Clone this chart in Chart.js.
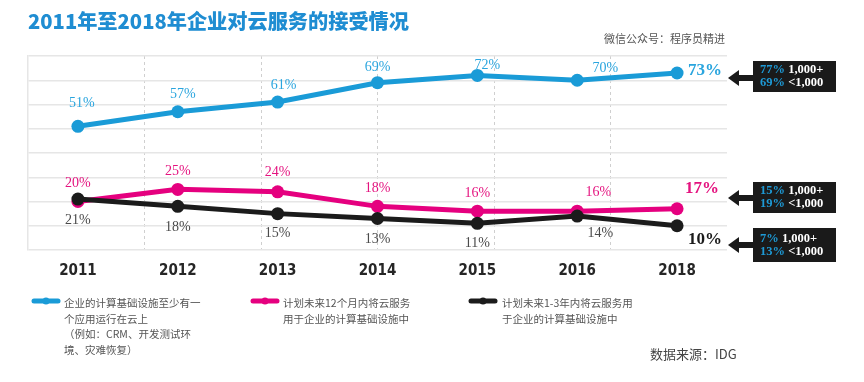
<!DOCTYPE html>
<html>
<head>
<meta charset="utf-8">
<script src="https://cdn.jsdelivr.net/npm/chart.js@4/dist/chart.umd.min.js"></script>
<style>
  html, body { margin: 0; padding: 0; background: #fff; }
  #wrap { position: relative; width: 864px; height: 382px; overflow: hidden; font-family: "Noto Sans CJK SC", "Noto Sans", sans-serif; }
  #c { position: absolute; left: 0; top: 0; }
  .t { position: absolute; white-space: nowrap; }
  #title { left: 28px; top: 6px; font-size: 20.2px; font-weight: 900; color: #1f8dd2; }
  #sub { right: 139px; top: 30px; font-size: 11px; color: #555; }
  .leg { position: absolute; font-size: 10.5px; line-height: 15.5px; color: #555; white-space: nowrap; }
  #src { left: 650px; top: 344px; font-size: 13px; color: #444; }
</style>
</head>
<body>
<div id="wrap">
  <canvas id="c" width="864" height="382"></canvas>
  <div id="title" class="t">2011年至2018年企业对云服务的接受情况</div>
  <div id="sub" class="t">微信公众号：程序员精进</div>
  <div class="leg" style="left:64px; top:295px;">企业的计算基础设施至少有一<br>个应用运行在云上<br>（例如：CRM、开发测试环<br>境、灾难恢复）</div>
  <div class="leg" style="left:283px; top:295px;">计划未来12个月内将云服务<br>用于企业的计算基础设施中</div>
  <div class="leg" style="left:502px; top:295px;">计划未来1-3年内将云服务用<br>于企业的计算基础设施中</div>
  <div id="src" class="t">数据来源：IDG</div>
</div>
<script>
// ---- data ----
const years = ['2011', '2012', '2013', '2014', '2015', '2016', '2018'];
const deployed = [51, 57, 61, 69, 72, 70, 73];
const plan12Months = [20, 25, 24, 18, 16, 16, 17];
const plan1to3Years = [21, 18, 15, 13, 11, 14, 10];
const seriesNames = ['企业的计算基础设施至少有一个应用运行在云上', '计划未来12个月内将云服务用于企业的计算基础设施中', '计划未来1-3年内将云服务用于企业的计算基础设施中'];
const splitLarge = ['77%', '15%', '7%'];   // 1,000+
const splitSmall = ['69%', '19%', '13%'];  // <1,000
const splitLabels = ['1,000+', '<1,000'];

const BLUE = '#1a9bd7', PINK = '#e5007f', BLACK = '#1b1b1b';
const LBLUE = '#2aa5de', LPINK = '#e4137f', LBLACK = '#4a4a4a';

// label offsets (style only)
const labelStyle = [
  { color: LBLUE, off: [[4,-23],[5,-17],[6,-17],[0,-15],[10,-10],[28,-12],[28,-2]] },
  { color: LPINK, off: [[0,-18],[0,-18],[0,-19],[0,-18],[0,-18],[21,-19],[25,-20]] },
  { color: LBLACK, off: [[0,21],[0,21],[0,20],[0,21],[0,20],[23,17],[28,14]] }
];

const labelPlugin = {
  id: 'labels',
  afterDatasetsDraw(chart) {
    const ctx = chart.ctx;
    const xs = chart.scales.x, ys = chart.scales.y;
    ctx.save();
    ctx.textAlign = 'center';
    ctx.textBaseline = 'middle';
    chart.data.datasets.forEach((ds, di) => {
      const st = labelStyle[di];
      ds.data.forEach((v, i) => {
        const last = i === ds.data.length - 1;
        const x = xs.getPixelForValue(i) + st.off[i][0];
        const y = ys.getPixelForValue(v) + st.off[i][1];
        ctx.font = last ? 'bold 17px "Liberation Serif", serif' : '14px "Liberation Serif", serif';
        ctx.fillStyle = (last && di === 2) ? '#1b1b1b' : st.color;
        ctx.fillText(v + '%', x, y);
      });
    });
    ctx.restore();
  }
};

const calloutPlugin = {
  id: 'callouts',
  afterDraw(chart) {
    const ctx = chart.ctx;
    const a = chart.chartArea;
    const boxes = [
      { top: a.top + 5, h: 31, ay: a.top + 22 },
      { top: a.top + 126, h: 31, ay: a.top + 142 },
      { top: a.top + 172, h: 34, ay: a.top + 189 }
    ];
    ctx.save();
    boxes.forEach((b, i) => {
      const bx = a.right + 26, bw = 83;
      ctx.fillStyle = '#1a1a1a';
      ctx.fillRect(bx, b.top, bw, b.h);
      ctx.fillRect(a.right + 11, b.ay - 3, bx - (a.right + 11) + 1, 6);
      ctx.beginPath();
      ctx.moveTo(a.right + 1, b.ay);
      ctx.lineTo(a.right + 12, b.ay - 8);
      ctx.lineTo(a.right + 12, b.ay + 8);
      ctx.closePath();
      ctx.fill();
      ctx.font = 'bold 12.5px "Liberation Serif", serif';
      ctx.textBaseline = 'middle';
      ctx.textAlign = 'left';
      const mid = b.top + b.h / 2;
      [[splitLarge[i], splitLabels[0], mid - 6.5], [splitSmall[i], splitLabels[1], mid + 6.5]].forEach(r => {
        ctx.fillStyle = '#1e9ad6';
        ctx.fillText(r[0], bx + 7, r[2]);
        const w = ctx.measureText(r[0] + ' ').width;
        ctx.fillStyle = '#ffffff';
        ctx.fillText(r[1], bx + 7 + w, r[2]);
      });
    });
    // legend markers
    const marks = [[32, BLUE], [251, PINK], [469, BLACK]];
    marks.forEach(m => {
      ctx.strokeStyle = m[1];
      ctx.lineWidth = 5;
      ctx.lineCap = 'round';
      ctx.beginPath();
      ctx.moveTo(m[0] + 2, 301);
      ctx.lineTo(m[0] + 26, 301);
      ctx.stroke();
      ctx.fillStyle = m[1];
      ctx.beginPath();
      ctx.arc(m[0] + 14, 301, 3.5, 0, Math.PI * 2);
      ctx.fill();
    });
    ctx.restore();
  }
};

new Chart(document.getElementById('c'), {
  type: 'line',
  data: {
    labels: years,
    datasets: [
      { label: seriesNames[0], data: deployed, borderColor: BLUE, backgroundColor: BLUE, order: 2 },
      { label: seriesNames[1], data: plan12Months, borderColor: PINK, backgroundColor: PINK, order: 1 },
      { label: seriesNames[2], data: plan1to3Years, borderColor: BLACK, backgroundColor: BLACK, order: 0 }
    ]
  },
  options: {
    responsive: false,
    animation: false,
    devicePixelRatio: 1,
    layout: { padding: { left: 28, right: 137, top: 56, bottom: 0 } },
    elements: {
      line: { borderWidth: 5, tension: 0 },
      point: { radius: 6.5, borderWidth: 0, hoverRadius: 6.5 }
    },
    plugins: { legend: { display: false }, tooltip: { enabled: false }, title: { display: false } },
    scales: {
      x: {
        type: 'category',
        offset: true,
        grid: { display: false, drawTicks: false },
        border: { display: false },
        ticks: { color: '#262626', padding: 12, font: { family: '"DejaVu Sans Condensed", "Liberation Sans Narrow", sans-serif', size: 15, weight: 'bold' } },
        afterFit: s => { s.height = 132; }
      },
      x2: {
        type: 'linear',
        position: 'bottom',
        min: 0, max: 6,
        ticks: { display: false, stepSize: 1 },
        grid: {
          drawTicks: false,
          lineWidth: 1,
          color: c => (c.index === 0 || c.index === 6) ? 'rgba(0,0,0,0)' : '#cfcfcf'
        },
        border: { display: false, dash: [3, 3] },
        afterFit: s => { s.height = 0; }
      },
      y: {
        min: 0, max: 80,
        ticks: { display: false, stepSize: 10 },
        grid: { color: '#e6e6e6', lineWidth: 1.5, drawTicks: false },
        border: { display: true, color: '#e6e6e6', width: 1.5 },
        afterFit: s => { s.width = 0; }
      }
    }
  },
  plugins: [labelPlugin, calloutPlugin]
});
</script>
</body>
</html>
